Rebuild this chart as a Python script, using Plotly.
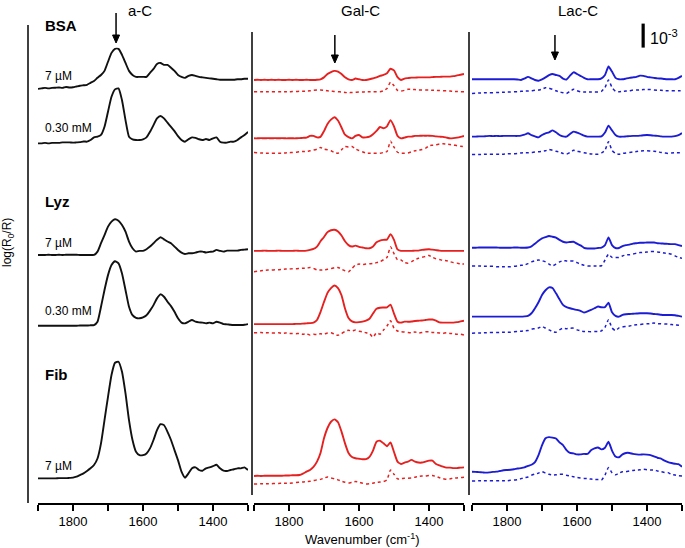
import plotly.graph_objects as go

# ---------------- data (log(R0/R) in units of 1e-3, relative to each trace's baseline) -------------
wavenumber = list(range(1900, 1299, -10))  # 1900 ... 1300 cm-1

panel_titles = ["a-C", "Gal-C", "Lac-C"]
proteins = ["BSA", "Lyz", "Fib"]
conc_labels = ["7 µM", "0.30 mM", "7 µM", "0.30 mM", "7 µM"]

# a-C (black)
ac_bsa_7 = [0, .02, .04, .02, .04, .05, .06, .04, .08, .06,
            .07, .1, .13, .15, .17, .25, .33, .46, .58, .75,
            1.13, 1.5, 1.67, 1.67, 1.42, 1.08, .75, .58, .5, .5,
            .5, .5, .67, .83, 1.04, 1.08, 1.0, 1.0, .88, .75,
            .58, .5, .46, .54, .58, .54, .5, .48, .46, .44,
            .42, .4, .38, .38, .38, .38, .38, .4, .4, .42, .42]
ac_bsa_030 = [0, 0, .02, 0, .02, .02, .02, .04, .04, .04,
              .03, .04, .05, .08, .07, .14, .25, .28, .35, .69,
              1.32, 1.94, 2.25, 2.29, 1.8, .97, .28, .17, .14, .14,
              .17, .25, .48, .76, 1.04, 1.14, 1.04, .86, .69, .51,
              .3, .14, .07, .17, .25, .23, .17, .14, .18, .14,
              .21, .25, .07, .03, .03, .07, .07, .14, .25, .35, .48]
ac_lyz_7 = [0, 0, 0, .01, 0, 0, .01, 0, .01, .01,
            .01, .01, 0, 0, 0, 0, 0, .14, .49, .83,
            1.18, 1.39, 1.49, 1.43, 1.25, .97, .56, .28, .14, .17,
            .17, .24, .35, .49, .63, .74, .65, .56, .49, .35,
            .21, .1, .04, .07, .07, .1, .14, .14, .1, .13,
            .14, .21, .17, .14, .18, .18, .18, .18, .21, .22, .24]
ac_lyz_030 = [0, 0, 0, 0, 0, 0, 0, 0, 0, 0,
              0, 0, .01, .01, .01, .02, .03, .17, .79, 1.49,
              2.11, 2.53, 2.69, 2.6, 2.18, 1.49, .79, .44, .33, .31,
              .35, .44, .63, .86, 1.14, 1.31, 1.21, 1.0, .82, .58,
              .31, .13, .1, .17, .24, .17, .14, .13, .1, .13,
              .1, .17, .13, .07, .06, .04, .03, .03, .03, .04, .07]
ac_fib_7 = [0, 0, 0, 0, 0, 0, .01, .01, .01, .02,
            .03, .07, .14, .21, .31, .42, .56, .83, 1.46, 2.43,
            3.4, 4.31, 4.82, 4.86, 4.44, 3.54, 2.43, 1.6, 1.11, .97,
            .97, 1.04, 1.25, 1.6, 2.01, 2.26, 2.22, 1.94, 1.6, 1.18,
            .76, .28, .03, .21, .42, .46, .35, .32, .42, .46,
            .51, .57, .42, .32, .31, .35, .38, .42, .42, .46, .35]

# Gal-C (red): solid and dotted
gal_bsa_7 = [0, .01, 0, .01, 0, .01, 0, .01, 0, 0,
             .01, 0, .01, 0, 0, .01, 0, 0, .01, .03,
             .11, .25, .33, .38, .35, .25, .11, .03, 0, .06,
             .03, 0, 0, .03, .07, .11, .17, .21, .28, .47,
             .4, .12, 0, .06, .08, .1, .1, .11, .11, .11,
             .11, .12, .13, .13, .14, .14, .14, .16, .19, .22, .25]
gal_bsa_7_dot = [0, 0, 0, 0, 0, 0, 0, 0, 0, 0,
                 0, .01, .01, .02, .02, .03, .04, .06, .07, .07,
                 .06, .04, .03, .01, 0, -.01, -.03, -.04, -.03, -.02,
                 -.01, -.01, 0, 0, 0, 0, 0, .04, .14, .4,
                 .25, .06, .03, .06, .1, .1, .09, .08, .07, .07,
                 .07, .06, .06, .05, .04, .04, .03, .02, .01, 0, 0]
gal_bsa_030 = [0, 0, .01, 0, .01, 0, .01, 0, .01, 0,
               0, 0, 0, .01, .02, .03, .1, .1, .04, .06,
               .3, .6, .78, .88, .74, .45, .15, .05, 0, .1,
               .14, .04, .04, .07, .17, .31, .47, .42, .5, .76,
               .5, .1, 0, .03, .07, .07, .1, .1, .11, .11,
               .11, .1, .08, .07, .06, .03, 0, .01, .03, .06, .1]
gal_bsa_030_dot = [.03, .02, .01, 0, 0, 0, 0, 0, 0, .01,
                   .02, .03, .04, .06, .07, .07, .1, .13, .17, .24,
                   .17, .14, .1, .03, 0, .14, .28, .26, .28, .18,
                   .11, .06, 0, 0, 0, 0, 0, .03, .07, .5,
                   .25, .04, 0, 0, .01, .06, .1, .13, .15, .2,
                   .31, .33, .35, .38, .39, .38, .36, .35, .31, .29, .28]
gal_lyz_7 = [0, 0, 0, .01, 0, 0, 0, .01, 0, 0,
             0, 0, .01, 0, 0, .01, .04, .08, .18, .4,
             .58, .78, .86, .88, .81, .64, .4, .24, .18, .22,
             .17, .14, .11, .11, .18, .36, .43, .46, .47, .7,
             .46, .06, 0, 0, 0, 0, .01, .01, .04, .06,
             .07, .05, .03, .01, 0, 0, 0, 0, 0, 0, 0]
gal_lyz_7_dot = [0, .02, .04, .06, .07, .07, .08, .08, .1, .11,
                 .11, .13, .13, .14, .15, .15, .18, .14, .08, .07,
                 .08, .1, .13, .17, .18, .11, .04, 0, .14, .28,
                 .32, .3, .32, .33, .35, .38, .42, .5, .6, 1.04,
                 .76, .5, .49, .38, .36, .42, .5, .56, .6, .64,
                 .68, .6, .54, .51, .47, .46, .42, .38, .36, .33, .32]
gal_lyz_030 = [0, 0, 0, 0, 0, 0, 0, 0, 0, 0,
               0, 0, .01, .01, .02, .03, .04, .06, .17, .5,
               .92, 1.3, 1.5, 1.61, 1.5, 1.2, .65, .25, .11, .07,
               .08, .1, .14, .22, .44, .64, .68, .69, .7, .81,
               .44, .1, .06, .1, .1, .11, .13, .14, .15, .17,
               .19, .19, .14, .07, .06, .06, .06, .06, .08, .11, .14]
gal_lyz_030_dot = [0, 0, .01, -.01, 0, -.01, -.01, 0, -.03, -.01,
                   -.03, -.03, -.04, -.03, -.06, -.04, -.1, -.06, -.08, -.04,
                   -.06, -.01, 0, -.06, -.11, -.04, .06, .1, .07, .11,
                   .06, .04, 0, -.03, -.19, 0, -.06, .11, .28, .5,
                   .19, .07, .04, .03, .01, 0, .03, -.01, .01, .04,
                   .04, .01, 0, -.01, -.03, 0, -.03, -.04, -.06, -.06, -.1]
gal_fib_7 = [0, .01, 0, .01, .01, .01, .01, .01, .01, .02,
             .02, .03, .03, .04, .1, .18, .25, .38, .6, .96,
             1.57, 2.0, 2.26, 2.36, 2.24, 1.85, 1.36, .96, .79, .74,
             .72, .7, .7, .8, 1.06, 1.43, 1.47, 1.36, 1.24, 1.4,
             1.0, .6, .5, .56, .6, .67, .6, .56, .56, .6,
             .64, .64, .5, .44, .39, .35, .35, .33, .33, .35, .36]
gal_fib_7_dot = [0, 0, .01, .01, .01, .01, .02, .02, .03, .03,
                 .03, .04, .06, .07, .08, .1, .11, .14, .17, .19,
                 .24, .29, .25, .21, .17, .11, .07, .04, .07, .1,
                 .07, .03, 0, .01, .03, .06, .08, .1, .17, .58,
                 .4, .21, .22, .24, .24, .25, .28, .31, .33, .33,
                 .35, .35, .31, .26, .22, .19, .21, .24, .25, .26, .28]

# Lac-C (blue): solid and dotted
lac_bsa_7 = [0, 0, 0, 0, 0, 0, 0, 0, 0, 0,
             0, 0, 0, -.01, -.03, .03, .1, .04, -.03, -.06,
             0, .08, .17, .22, .18, .14, .03, -.01, .15, .29,
             .22, .14, .06, 0, 0, 0, 0, .04, .18, .53,
             .32, .06, 0, 0, .03, .06, .08, .1, .15, .14,
             .1, .08, .06, .04, .03, .01, 0, 0, 0, .06, .14]
lac_bsa_7_dot = [-.03, -.02, -.01, -.01, 0, 0, 0, .01, .01, .02,
                 .03, .03, .04, .04, .06, .07, .07, .08, .1, .11,
                 .15, .21, .19, .14, .08, .03, 0, -.03, .06, .14,
                 .08, .04, .03, .03, .03, .03, .03, .06, .22, .53,
                 .22, .06, .04, .06, .07, .08, .11, .11, .12, .13,
                 .14, .13, .11, .1, .1, .08, .08, .08, .08, .08, .08]
lac_bsa_030 = [0, 0, .01, .01, .02, .03, .02, .03, .02, .03,
               .03, .03, .03, .03, .04, .08, .14, .06, .01, -.03,
               .07, .14, .18, .26, .18, .07, .01, 0, .11, .21,
               .17, .11, .04, 0, 0, 0, 0, .01, .17, .46,
               .26, .07, 0, 0, .01, .02, .03, .03, .04, .06,
               .07, .06, .04, .03, .01, 0, 0, 0, .02, .06, .15]
lac_bsa_030_dot = [0, 0, 0, 0, .01, .01, .01, .01, .01, .01,
                   .02, .03, .03, .04, .06, .07, .07, .08, .1, .11,
                   .13, .15, .21, .17, .13, .1, .04, .01, .08, .17,
                   .14, .1, .07, .04, .02, .01, .01, .06, .17, .53,
                   .17, .04, .01, .04, .06, .08, .1, .12, .14, .15,
                   .15, .14, .13, .11, .08, .06, .04, .06, .07, .07, .07]
lac_lyz_7 = [0, 0, .01, .01, .01, .01, .01, .01, 0, 0,
             0, 0, .01, .01, 0, 0, .01, .06, .17, .29,
             .39, .44, .49, .46, .42, .33, .25, .22, .24, .25,
             .17, .1, 0, -.03, -.03, -.03, -.01, .01, .11, .43,
             .11, -.01, -.01, .07, .11, .13, .17, .19, .21, .21,
             .22, .22, .22, .19, .18, .17, .16, .15, .15, .11, .07]
lac_lyz_7_dot = [0, 0, 0, -.01, -.01, -.01, -.01, -.03, -.03, -.03,
                 -.03, -.03, -.01, 0, .03, .04, .1, .17, .22, .25,
                 .22, .17, .08, .01, .08, .17, .22, .21, .21, .21,
                 .14, .08, .03, 0, 0, 0, 0, .01, .25, .49,
                 .36, .35, .36, .42, .46, .47, .5, .53, .56, .57,
                 .58, .6, .6, .58, .57, .54, .53, .49, .42, .36, .32]
lac_lyz_030 = [0, 0, 0, 0, 0, 0, 0, 0, 0, 0,
               0, 0, 0, 0, 0, .01, .03, .14, .35, .6,
               .9, 1.1, 1.22, 1.19, .97, .72, .49, .4, .35, .31,
               .28, .24, .17, .22, .28, .35, .42, .39, .4, .58,
               .18, .03, 0, .07, .1, .11, .12, .13, .14, .14,
               .14, .13, .11, .1, .08, .07, .07, .07, .06, .03, 0]
lac_lyz_030_dot = [0, .01, .01, .01, .02, .03, .03, .03, .03, .04,
                   .04, .04, .06, .07, .08, .1, .11, .17, .19, .22,
                   .28, .21, .14, .07, .04, .14, .21, .19, .21, .21,
                   .14, .1, .07, .07, .06, .07, .07, .1, .25, .56,
                   .22, .11, .22, .26, .28, .3, .33, .35, .36, .38,
                   .39, .4, .42, .4, .39, .38, .38, .36, .35, .33, .31]
lac_fib_7 = [0, -.01, -.02, -.03, -.04, -.03, -.01, 0, .03, .06,
             .07, .08, .1, .13, .15, .18, .24, .29, .4, .69,
             1.1, 1.39, 1.44, 1.42, 1.38, 1.22, 1.11, .9, .78, .76,
             .72, .72, .74, .74, .89, .97, 1.01, .93, 1.0, 1.25,
             .88, .63, .6, .72, .78, .78, .74, .72, .71, .72,
             .71, .69, .64, .58, .54, .46, .4, .36, .33, .31, .21]
lac_fib_7_dot = [0, 0, .01, .01, .01, .01, .01, .01, .01, .01,
                 .01, .03, .04, .06, .1, .14, .17, .24, .29, .33,
                 .39, .33, .28, .25, .26, .28, .28, .24, .21, .18,
                 .15, .13, .11, .1, .08, .07, .06, .04, .25, .56,
                 .35, .26, .33, .39, .39, .42, .44, .46, .47, .49,
                 .47, .46, .46, .42, .39, .36, .35, .28, .25, .22, .21]

# stacking offsets of each trace's baseline (units of 1e-3)
off_ac = [19.13, 16.86, 12.21, 9.26, 2.9]
off_gal = [19.5, 17.07, 12.38, 9.33, 3.0]
off_gal_dot = [19.01, 16.45, 11.51, 8.97, 2.67]
off_lac = [19.53, 17.14, 12.51, 9.64, 3.18]
off_lac_dot = [18.97, 16.4, 11.75, 8.95, 2.79]

# ---------------- figure ----------------
W, H = 685, 548
PX = 24.0  # pixels per 1e-3
YMAX = H / PX
FONT = "Liberation Sans, Arial, Helvetica, sans-serif"
BLACK, RED, BLUE = "#111111", "#e5201f", "#1c1cd4"

fig = go.Figure()


def add(vals, off, xa, ya, color, dot=False):
    fig.add_trace(go.Scatter(
        x=wavenumber, y=[v + off for v in vals], mode="lines",
        xaxis=xa, yaxis=ya, hoverinfo="skip", showlegend=False,
        line=dict(color=color, width=1.5 if dot else 1.9, dash="dot" if dot else "solid",
                  shape="spline", smoothing=0.5)))


for vals, off in zip([ac_bsa_7, ac_bsa_030, ac_lyz_7, ac_lyz_030, ac_fib_7], off_ac):
    add(vals, off, "x", "y", BLACK)
for vals, off in zip([gal_bsa_7, gal_bsa_030, gal_lyz_7, gal_lyz_030, gal_fib_7], off_gal):
    add(vals, off, "x2", "y2", RED)
for vals, off in zip([gal_bsa_7_dot, gal_bsa_030_dot, gal_lyz_7_dot, gal_lyz_030_dot, gal_fib_7_dot], off_gal_dot):
    add(vals, off, "x2", "y2", RED, dot=True)
for vals, off in zip([lac_bsa_7, lac_bsa_030, lac_lyz_7, lac_lyz_030, lac_fib_7], off_lac):
    add(vals, off, "x3", "y3", BLUE)
for vals, off in zip([lac_bsa_7_dot, lac_bsa_030_dot, lac_lyz_7_dot, lac_lyz_030_dot, lac_fib_7_dot], off_lac_dot):
    add(vals, off, "x3", "y3", BLUE, dot=True)

xdomains = [[38 / W, 248 / W], [254 / W, 464 / W], [472 / W, 682 / W]]
axis_pos = 44 / H

layout = dict(
    width=W, height=H, margin=dict(l=0, r=0, t=0, b=0),
    paper_bgcolor="white", plot_bgcolor="rgba(0,0,0,0)",
    font=dict(family=FONT, color="black", size=13),
    showlegend=False,
)
for i, dom in enumerate(xdomains):
    sx = "" if i == 0 else str(i + 1)
    layout["xaxis" + sx] = dict(
        domain=dom, range=[1900, 1300], anchor="free", position=axis_pos,
        showline=True, linecolor="black", linewidth=1.5, mirror=False,
        ticks="outside", ticklen=6, tickwidth=1.5, tickcolor="black",
        tickmode="array", tickvals=[1800, 1600, 1400],
        tickfont=dict(size=13, family=FONT),
        minor=dict(tickmode="array", tickvals=[1900, 1700, 1500, 1300],
                   ticks="outside", ticklen=6, tickwidth=1.5, tickcolor="black", showgrid=False),
        showgrid=False, zeroline=False, fixedrange=True)
    layout["yaxis" + sx] = dict(
        domain=[0, 1], range=[0, YMAX], visible=False, showgrid=False,
        zeroline=False, anchor="x" + sx, fixedrange=True)
fig.update_layout(**layout)

# frame lines
def vline(xp, y0p, y1p):
    fig.add_shape(type="line", xref="paper", yref="paper",
                  x0=xp / W, x1=xp / W, y0=1 - y0p / H, y1=1 - y1p / H,
                  line=dict(color="black", width=1.5))

vline(28, 25, 503)
vline(252, 32, 495)
vline(469, 32, 495)

# scale bar (1e-3)
fig.add_shape(type="line", xref="x3", yref="y3", x0=1411, x1=1411, y0=20.85, y1=21.85,
              line=dict(color="black", width=3.2))
fig.add_annotation(xref="x3", yref="y3", x=1396, y=21.3, text="10<sup>-3</sup>",
                   showarrow=False, xanchor="left", yanchor="middle", font=dict(size=16, family=FONT))

# arrows marking amide I (shaft + head drawn as pixel-sized shapes anchored at the tip)
for xa, ya, xv, tip_py, length in [("x", "y", 1677, 43, 30), ("x2", "y2", 1669, 63, 28), ("x3", "y3", 1663, 60, 25)]:
    yt = (H - tip_py) / PX
    fig.add_shape(type="line", xref=xa, yref=ya, xsizemode="pixel", ysizemode="pixel",
                  xanchor=xv, yanchor=yt, x0=0, x1=0, y0=6, y1=length,
                  line=dict(color="black", width=1.5))
    fig.add_shape(type="path", xref=xa, yref=ya, xsizemode="pixel", ysizemode="pixel",
                  xanchor=xv, yanchor=yt, path="M -3.5,8 L 3.5,8 L 0,0 Z",
                  fillcolor="black", line=dict(color="black", width=1))

# text labels
def label(txt, xp, yp, size=12, anchor="left", bold=False):
    fig.add_annotation(xref="paper", yref="paper", x=xp / W, y=1 - yp / H,
                       text=f"<b>{txt}</b>" if bold else txt, showarrow=False,
                       xanchor=anchor, yanchor="middle", font=dict(size=size, family=FONT))

for t, xp in zip(panel_titles, [140, 360, 578]):
    label(t, xp, 10, size=15, anchor="center")
for t, yp in zip(proteins, [25, 202, 374]):
    label(t, 43, yp, size=15, bold=True)
for t, yp in zip(conc_labels, [76, 128, 243, 311, 466]):
    label(t, 43, yp, size=12)

fig.add_annotation(xref="paper", yref="paper", x=8 / W, y=1 - 243 / H,
                   text="log(R<sub>0</sub>/R)", textangle=-90, showarrow=False,
                   xanchor="center", yanchor="middle", font=dict(size=12, family=FONT))
fig.add_annotation(xref="paper", yref="paper", x=362 / W, y=1 - 539 / H,
                   text="Wavenumber (cm<sup>-1</sup>)", showarrow=False,
                   xanchor="center", yanchor="middle", font=dict(size=13, family=FONT))

fig.write_html("out.html", config={"displayModeBar": False},
               post_script="document.body.style.margin='0px';document.body.style.overflow='hidden';")
